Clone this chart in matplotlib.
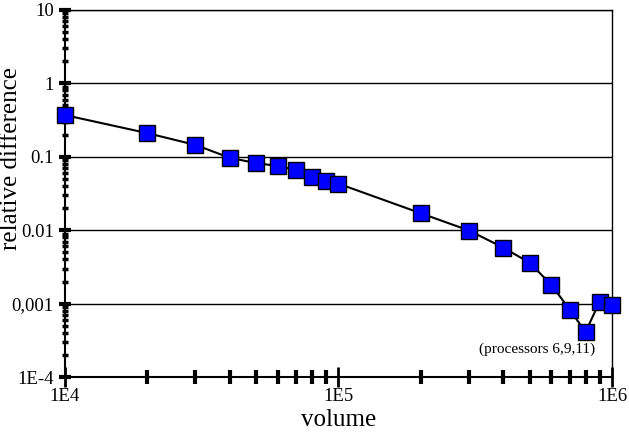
import matplotlib.pyplot as plt
from matplotlib.ticker import LogLocator, FixedLocator, FixedFormatter, NullFormatter

plt.rcParams['font.family'] = ['Liberation Serif', 'DejaVu Serif']

# volume vs relative difference
volume = [1e4, 2e4, 3e4, 4e4, 5e4, 6e4, 7e4, 8e4, 9e4, 1e5,
          2e5, 3e5, 4e5, 5e5, 6e5, 7e5, 8e5, 9e5, 1e6]
rel_diff = [0.37, 0.21, 0.145, 0.097, 0.082, 0.075, 0.066, 0.053, 0.047, 0.043,
            0.017, 0.0099, 0.0058, 0.0036, 0.0018, 0.00083, 0.00041, 0.00105, 0.00096]

y_ticks = [1e-4, 1e-3, 1e-2, 1e-1, 1, 10]
y_labels = ['1E-4', '0,001', '0.01', '0.1', '1', '10']
x_ticks = [1e4, 1e5, 1e6]
x_labels = ['1E4', '1E5', '1E6']

fig = plt.figure(figsize=(6.29, 4.32), dpi=100)
ax = fig.add_axes([0.1033, 0.1273, 0.8697, 0.8496])

ax.plot(volume, rel_diff, color='black', lw=1.5, marker='s', markersize=12,
        markerfacecolor='#0000ff', markeredgecolor='black', markeredgewidth=1, zorder=3,
        clip_on=False)

ax.set_xscale('log')
ax.set_yscale('log')
ax.set_xlim(1e4, 1e6)
ax.set_ylim(1e-4, 10)

ax.yaxis.set_major_locator(FixedLocator(y_ticks))
ax.yaxis.set_major_formatter(FixedFormatter(y_labels))
ax.yaxis.set_minor_locator(LogLocator(base=10, subs=range(2, 10)))
ax.yaxis.set_minor_formatter(NullFormatter())
ax.xaxis.set_major_locator(FixedLocator(x_ticks))
ax.xaxis.set_major_formatter(FixedFormatter(x_labels))
ax.xaxis.set_minor_locator(LogLocator(base=10, subs=range(2, 10)))
ax.xaxis.set_minor_formatter(NullFormatter())

ax.grid(True, which='major', axis='y', color='black', lw=1)
ax.tick_params(axis='y', which='major', direction='inout', length=8, width=3,
               labelsize=13.5, pad=4)
ax.tick_params(axis='y', which='minor', direction='inout', length=4, width=2.5)
ax.tick_params(axis='x', which='major', direction='inout', length=14, width=2,
               labelsize=13.5, pad=1)
ax.tick_params(axis='x', which='minor', direction='inout', length=10, width=3)
for s in ax.spines.values():
    s.set_linewidth(1)
ax.spines['left'].set_linewidth(1.5)
ax.spines['bottom'].set_linewidth(1.5)

ax.set_xlabel('volume', fontsize=18, labelpad=3)
ax.set_ylabel('relative difference', fontsize=18)
ax.yaxis.set_label_coords(-0.079, 0.595)

ax.text(5.3e5, 2.4e-4, '(processors 6,9,11)', fontsize=11, ha='center', va='center')

fig.savefig('out.png', dpi=100)
